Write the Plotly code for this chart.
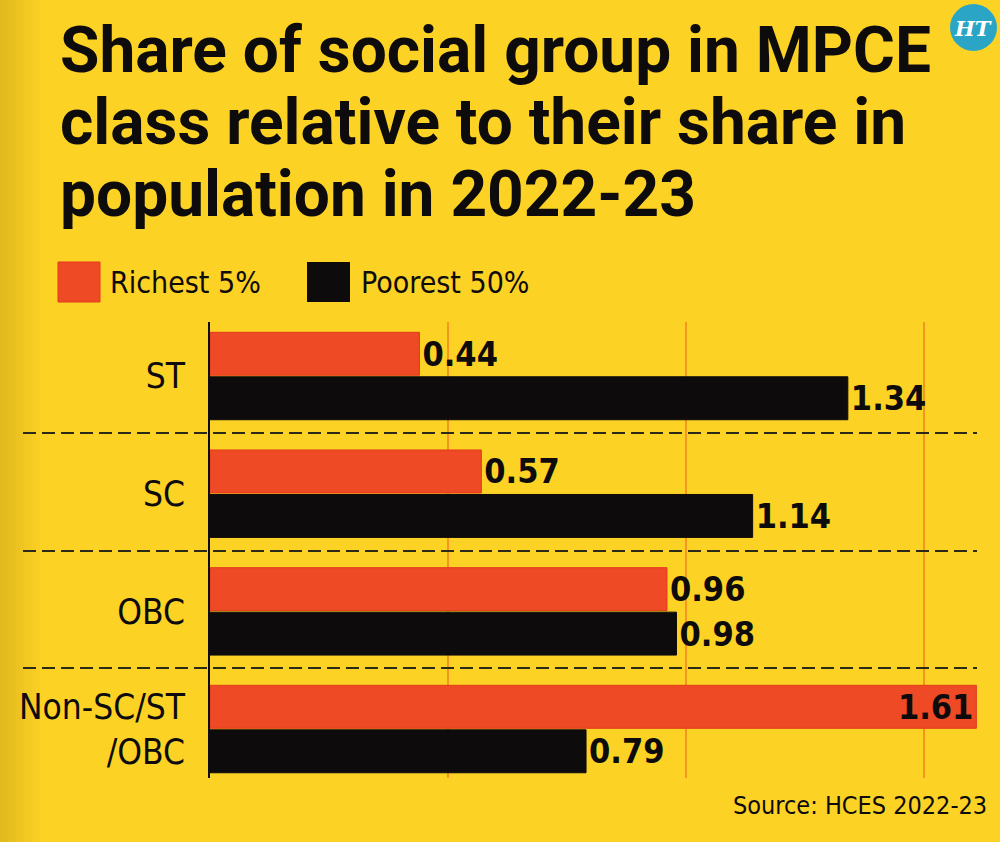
import plotly.graph_objects as go

# ---------------- data ----------------
groups = ["ST", "SC", "OBC", "Non-SC/ST<br>/OBC"]
series_names = ["Richest 5%", "Poorest 50%"]
richest = [0.44, 0.57, 0.96, 1.61]
poorest = [1.34, 1.14, 0.98, 0.79]
title_lines = ["Share of social group in MPCE",
               "class relative to their share in",
               "population in 2022-23"]
source_text = "Source: HCES 2022-23"

# ---------------- style ----------------
W, H = 1000, 842
L, R, T, B = 210, 5, 322, 64
PLOT_W = W - L - R
PLOT_H = H - T - B
PX_PER_UNIT = 476.0
BG = "#FCD225"
ORANGE = "#EE4A25"
BLACK = "#0D0B0C"
GRID = "#F5961E"
NARROW = "Liberation Sans Narrow, DejaVu Sans Condensed, Arial Narrow, sans-serif"

def px(x):
    return (x - L) / PLOT_W

def py(y):
    return (H - B - y) / PLOT_H

def fmt(v):
    return f"{v:.2f}"

fig = go.Figure()

# richest: last (largest) label sits inside the bar
r_pos = ["inside" if v == max(richest) else "outside" for v in richest]
fig.add_trace(go.Bar(
    y=groups, x=richest, orientation="h", name=series_names[0],
    marker=dict(color=ORANGE, line=dict(color="#E23A1E", width=1)),
    text=[fmt(v) for v in richest], textposition=r_pos,
    insidetextanchor="end", constraintext="none",
    textfont=dict(family=NARROW, size=34, color=BLACK, weight="bold"),
    cliponaxis=False, hoverinfo="skip",
))
fig.add_trace(go.Bar(
    y=groups, x=poorest, orientation="h", name=series_names[1],
    marker=dict(color=BLACK, line=dict(color=BLACK, width=1)),
    text=[fmt(v) for v in poorest], textposition="outside",
    constraintext="none",
    textfont=dict(family=NARROW, size=34, color=BLACK, weight="bold"),
    cliponaxis=False, hoverinfo="skip",
))

shapes = []
# left shadow gradient
for i in range(10):
    shapes.append(dict(type="rect", xref="paper", yref="paper",
                       x0=px(i * 4), x1=px(i * 4 + 4), y0=py(H), y1=py(0),
                       fillcolor="#7a5a00", opacity=0.20 * (1 - i / 10),
                       line=dict(width=0), layer="below"))
# dashed separators between groups
for yy in [433, 551, 668]:
    shapes.append(dict(type="line", xref="paper", yref="paper",
                       x0=px(23), x1=px(977), y0=py(yy), y1=py(yy),
                       line=dict(color="#2a2a1a", width=2, dash="13px,6px"),
                       layer="above"))
# legend swatches
shapes.append(dict(type="rect", xref="paper", yref="paper",
                   x0=px(58), x1=px(100), y0=py(302), y1=py(262),
                   fillcolor=ORANGE, line=dict(color="#E23A1E", width=1)))
shapes.append(dict(type="rect", xref="paper", yref="paper",
                   x0=px(307), x1=px(350), y0=py(302), y1=py(262),
                   fillcolor=BLACK, line=dict(width=0)))
# HT logo circle
shapes.append(dict(type="circle", xref="paper", yref="paper",
                   x0=px(950), x1=px(997), y0=py(51), y1=py(4),
                   fillcolor="#2AA5C5", line=dict(width=0)))

annotations = []
title_y = [90, 162, 234]
for t, yy in zip(title_lines, title_y):
    annotations.append(dict(text=f"<b>{t}</b>", xref="paper", yref="paper",
                            x=px(58), y=py(yy), xanchor="left", yanchor="bottom",
                            showarrow=False,
                            font=dict(family="Roboto, Arial, sans-serif", size=64,
                                      color=BLACK, weight=900)))
annotations.append(dict(text=series_names[0], xref="paper", yref="paper",
                        x=px(108), y=py(282), xanchor="left", yanchor="middle",
                        showarrow=False, font=dict(family=NARROW, size=30, color=BLACK)))
annotations.append(dict(text=series_names[1], xref="paper", yref="paper",
                        x=px(359), y=py(282), xanchor="left", yanchor="middle",
                        showarrow=False, font=dict(family=NARROW, size=30, color=BLACK)))
annotations.append(dict(text=source_text, xref="paper", yref="paper",
                        x=px(989), y=py(805), xanchor="right", yanchor="middle",
                        showarrow=False, font=dict(family=NARROW, size=25, color=BLACK)))
annotations.append(dict(text="<i><b>HT</b></i>", xref="paper", yref="paper",
                        x=px(973), y=py(28), xanchor="center", yanchor="middle",
                        showarrow=False,
                        font=dict(family="DejaVu Serif, serif", size=21, color="white")))

fig.update_layout(
    width=W, height=H,
    margin=dict(l=L, r=R, t=T, b=B, autoexpand=False),
    paper_bgcolor=BG, plot_bgcolor=BG,
    barmode="group", bargap=0.244, bargroupgap=0.035,
    showlegend=False,
    shapes=shapes, annotations=annotations,
    xaxis=dict(range=[0, PLOT_W / PX_PER_UNIT], showticklabels=False,
               showgrid=True, dtick=0.5, tick0=0, gridcolor=GRID, gridwidth=1.5,
               zeroline=False, ticks="", fixedrange=True),
    yaxis=dict(autorange=False, range=[3.416, -0.459], showline=True,
               linecolor=BLACK, linewidth=2, ticks="", showgrid=False,
               ticklabelstandoff=16,
               tickfont=dict(family=NARROW, size=35, color=BLACK)),
)

fig.write_html("out.html")
